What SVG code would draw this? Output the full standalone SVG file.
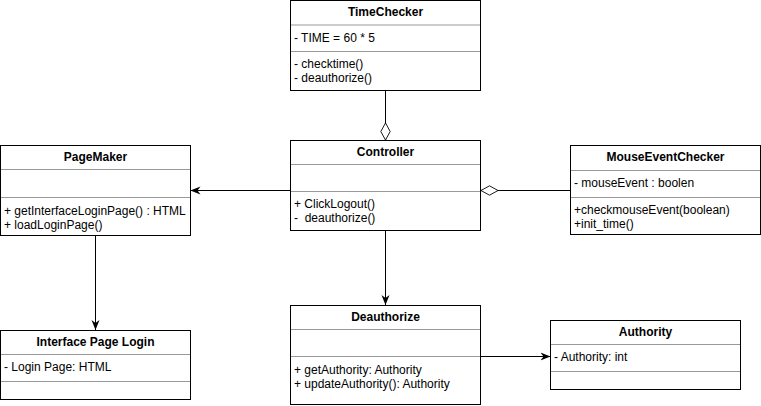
<svg xmlns="http://www.w3.org/2000/svg" width="761" height="406" viewBox="0 0 761 406">
<defs>
<style>
.box{fill:#fff;stroke:#000;stroke-width:1}
.sep{stroke:#999;stroke-width:1}
.t{font-family:"Liberation Sans",Arial,Helvetica,sans-serif;font-size:12px;fill:#000}
.h{font-weight:bold;text-anchor:middle}
.c{fill:none;stroke:#000;stroke-width:1}
</style>
<marker id="arr" viewBox="0 0 10 10" refX="10" refY="5" markerWidth="10" markerHeight="10" markerUnits="userSpaceOnUse" orient="auto">
<path d="M0,1 L10,5 L0,9 L3,5 Z" fill="#000"/>
</marker>
<marker id="dia" viewBox="0 0 20 12" refX="0" refY="6" markerWidth="18" markerHeight="11" markerUnits="userSpaceOnUse" orient="auto">
<path d="M0.5,6 L10,0.8 L19.5,6 L10,11.2 Z" fill="#fff" stroke="#000" stroke-width="1"/>
</marker>
</defs>
<rect width="761" height="406" fill="#fff"/>
<g id="connectors">
<path class="c" d="M385.5,140.5 L385.5,90" marker-start="url(#dia)"/>
<path class="c" d="M290,190.5 L190.5,190.5" marker-end="url(#arr)"/>
<path class="c" d="M480.5,190.5 L570,190.5" marker-start="url(#dia)"/>
<path class="c" d="M95.5,235 L95.5,330" marker-end="url(#arr)"/>
<path class="c" d="M385.5,230 L385.5,305" marker-end="url(#arr)"/>
<path class="c" d="M480,356.5 L550.5,356.5" marker-end="url(#arr)"/>
</g>
<g id="TimeChecker">
<rect class="box" x="290.5" y="0.5" width="190" height="90"/>
<line class="sep" x1="291" y1="25" x2="480" y2="25"/>
<line class="sep" x1="291" y1="51.5" x2="480" y2="51.5"/>
<text class="t h" x="385.5" y="16">TimeChecker</text>
<text class="t" x="294" y="42">- TIME = 60 * 5</text>
<text class="t" x="294" y="68">- checktime()</text>
<text class="t" x="294" y="82">- deauthorize()</text>
</g>
<g id="Controller">
<rect class="box" x="290.5" y="140.5" width="190" height="90"/>
<line class="sep" x1="291" y1="164.5" x2="480" y2="164.5"/>
<line class="sep" x1="291" y1="191.5" x2="480" y2="191.5"/>
<text class="t h" x="385.5" y="156">Controller</text>
<text class="t" x="294" y="208">+ ClickLogout()</text>
<text class="t" x="294" y="222" xml:space="preserve">-  deauthorize()</text>
</g>
<g id="PageMaker">
<rect class="box" x="0.5" y="145.5" width="190" height="90"/>
<line class="sep" x1="1" y1="169.5" x2="190" y2="169.5"/>
<line class="sep" x1="1" y1="197.5" x2="190" y2="197.5"/>
<text class="t h" x="95.5" y="161">PageMaker</text>
<text class="t" x="4" y="215">+ getInterfaceLoginPage() : HTML</text>
<text class="t" x="4" y="229">+ loadLoginPage()</text>
</g>
<g id="MouseEventChecker">
<rect class="box" x="570.5" y="145.5" width="190" height="89"/>
<line class="sep" x1="571" y1="170.5" x2="760" y2="170.5"/>
<line class="sep" x1="571" y1="197.5" x2="760" y2="197.5"/>
<text class="t h" x="665.5" y="161">MouseEventChecker</text>
<text class="t" x="574" y="187">- mouseEvent : boolen</text>
<text class="t" x="574" y="214">+checkmouseEvent(boolean)</text>
<text class="t" x="574" y="228">+init_time()</text>
</g>
<g id="InterfacePageLogin">
<rect class="box" x="0.5" y="330.5" width="190" height="69"/>
<line class="sep" x1="1" y1="354.5" x2="190" y2="354.5"/>
<line class="sep" x1="1" y1="381.5" x2="190" y2="381.5"/>
<text class="t h" x="95.5" y="346">Interface Page Login</text>
<text class="t" x="4" y="371">- Login Page: HTML</text>
</g>
<g id="Deauthorize">
<rect class="box" x="290.5" y="305.5" width="190" height="99"/>
<line class="sep" x1="291" y1="329.5" x2="480" y2="329.5"/>
<line class="sep" x1="291" y1="356.5" x2="480" y2="356.5"/>
<text class="t h" x="385.5" y="321">Deauthorize</text>
<text class="t" x="294" y="374">+ getAuthority: Authority</text>
<text class="t" x="294" y="388">+ updateAuthority(): Authority</text>
</g>
<g id="Authority">
<rect class="box" x="550.5" y="320.5" width="190" height="69"/>
<line class="sep" x1="551" y1="344.5" x2="740" y2="344.5"/>
<line class="sep" x1="551" y1="371.5" x2="740" y2="371.5"/>
<text class="t h" x="645.5" y="336">Authority</text>
<text class="t" x="554" y="361">- Authority: int</text>
</g>
</svg>
